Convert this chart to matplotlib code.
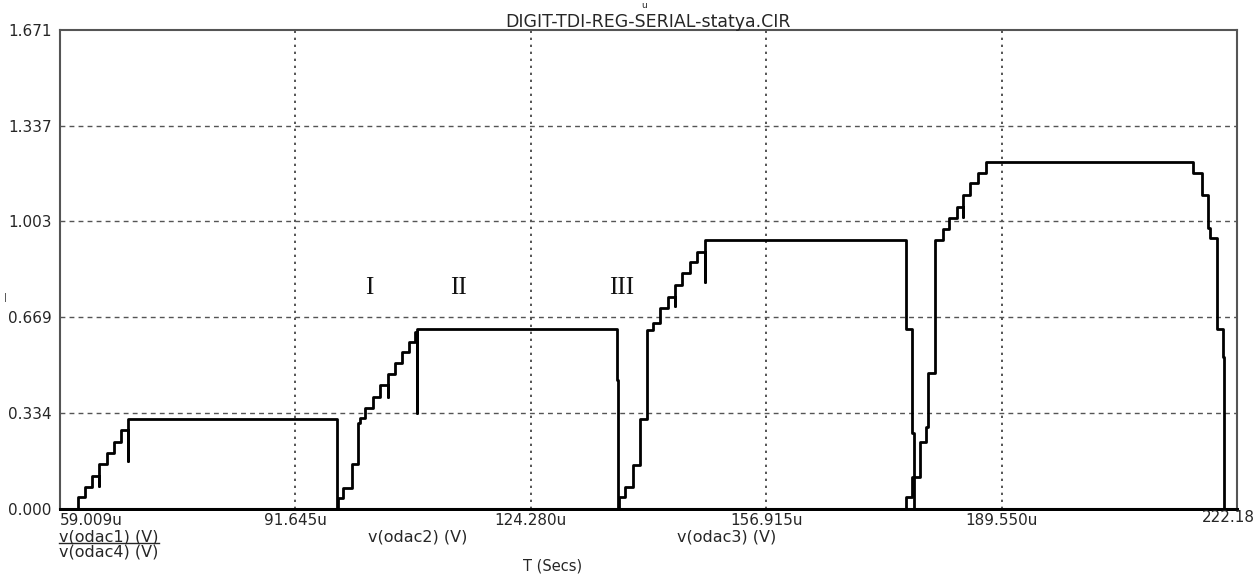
import matplotlib
matplotlib.use('Agg')
import matplotlib.pyplot as plt

W, H = 1256, 575

title = "DIGIT-TDI-REG-SERIAL-statya.CIR"
x_ticks = [59.009, 91.645, 124.280, 156.915, 189.550, 222.184]
x_tick_labels = ["59.009u", "91.645u", "124.280u", "156.915u", "189.550u", ""]
last_x_label = "222.18"
y_ticks = [0.000, 0.334, 0.669, 1.003, 1.337, 1.671]
y_tick_labels = ["0.000", "0.334", "0.669", "1.003", "1.337", "1.671"]

# v(odac1)
t1 = [59.009, 61.50, 62.48, 63.49, 64.46, 64.46, 65.48, 66.49, 67.47, 68.48, 68.48, 97.37, 222.184]
v1 = [0.0, 0.041, 0.076, 0.115, 0.080, 0.156, 0.196, 0.235, 0.276, 0.167, 0.314, 0.0, 0.0]
# v(odac2)
t2 = [59.009, 97.55, 98.24, 99.45, 100.37, 100.60, 101.29, 102.36, 103.37, 104.52, 104.52,
      105.45, 106.38, 107.44, 108.23, 108.45, 108.45, 136.23, 136.41, 222.184]
v2 = [0.0, 0.038, 0.073, 0.157, 0.300, 0.318, 0.352, 0.391, 0.433, 0.392, 0.471,
      0.509, 0.548, 0.583, 0.618, 0.335, 0.628, 0.450, 0.0, 0.0]
# v(odac3)
t3 = [59.009, 136.50, 137.34, 138.49, 139.42, 140.43, 141.26, 142.19, 143.34, 144.27, 144.27,
      145.20, 146.35, 147.28, 148.43, 148.43, 176.29, 177.08, 177.40, 222.184]
v3 = [0.0, 0.043, 0.078, 0.153, 0.313, 0.625, 0.649, 0.701, 0.741, 0.708, 0.782,
      0.822, 0.863, 0.898, 0.793, 0.939, 0.628, 0.265, 0.0, 0.0]
# v(odac4)
t4 = [59.009, 176.29, 177.08, 178.24, 179.07, 179.38, 180.31, 181.38, 182.29, 183.32, 184.24, 184.24,
      185.17, 186.32, 187.39, 216.12, 217.29, 218.20, 218.44, 219.40, 220.20, 220.38, 222.184]
v4 = [0.0, 0.043, 0.110, 0.235, 0.287, 0.473, 0.939, 0.977, 1.015, 1.055, 1.019, 1.096,
      1.137, 1.173, 1.212, 1.173, 1.096, 0.980, 0.946, 0.628, 0.531, 0.0, 0.0]

traces = [(t1, v1), (t2, v2), (t3, v3), (t4, v4)]
legend_labels = ["v(odac1) (V)", "v(odac2) (V)", "v(odac3) (V)", "v(odac4) (V)"]
region_labels = ["I", "II", "III"]
region_t = [101.85, 114.32, 136.92]
region_v = [0.771, 0.771, 0.771]

TXT = '#262626'

def fx(x):
    return x / W

def fy(y):
    return 1 - y / H

fig = plt.figure(figsize=(W / 100, H / 100), dpi=100)
ax = fig.add_axes([fx(60), fy(509), fx(1237) - fx(60), fy(30) - fy(509)])
ax.set_xlim(x_ticks[0], x_ticks[-1])
ax.set_ylim(y_ticks[0], y_ticks[-1])

for s in ax.spines.values():
    s.set_color('#555555')
    s.set_linewidth(1.5)

for yv in y_ticks[1:-1]:
    ax.axhline(yv, color='#555555', lw=1.0, dashes=(3.5, 3.0), zorder=1)
for xv in x_ticks[1:-1]:
    ax.axvline(xv, color='#555555', lw=1.4, dashes=(1.2, 2.4), zorder=1)

for t, v in traces:
    ax.plot(t, v, drawstyle='steps-post', color='black', lw=2.0, zorder=3, clip_on=False)

ax.set_xticks(x_ticks)
ax.set_xticklabels(x_tick_labels)
ax.set_yticks(y_ticks)
ax.set_yticklabels(y_tick_labels)
ax.tick_params(length=0, labelsize=11, colors=TXT)
ax.tick_params(axis='x', pad=3)
ax.tick_params(axis='y', pad=6)
ax.get_xticklabels()[0].set_ha('left')

for lab, tt, vv in zip(region_labels, region_t, region_v):
    ax.text(tt, vv, lab, ha='center', va='center', fontsize=18,
            family='Liberation Serif', color='#111111', zorder=4)

fig.text(fx(1255), fy(518), last_x_label, ha='right', va='center', fontsize=11, color=TXT)
fig.text(fx(648), fy(22), title, ha='center', va='center', fontsize=12.5, color=TXT)
fig.text(fx(644), fy(6), "u", ha='center', va='center', fontsize=6.5, color=TXT)
fig.text(fx(5), fy(297), "|", ha='center', va='center', fontsize=6, color=TXT)

tk = dict(fontsize=11.5, color=TXT, va='center')
t_odac1 = fig.text(fx(59), fy(537), legend_labels[0], ha='left', **tk)
fig.text(fx(59), fy(552), legend_labels[3], ha='left', **tk)
fig.text(fx(418), fy(537), legend_labels[1], ha='center', **tk)
fig.text(fx(727), fy(537), legend_labels[2], ha='center', **tk)
fig.text(fx(553), fy(566), "T (Secs)", ha='center', va='center', fontsize=10.5, color=TXT)

fig.canvas.draw()
bb = t_odac1.get_window_extent()
inv = fig.transFigure.inverted()
(x0, y0), (x1, y1) = inv.transform([(bb.x0, bb.y0), (bb.x1, bb.y0)])
fig.add_artist(plt.Line2D([x0, x1], [y0 + 0.003, y0 + 0.003], color=TXT, lw=1.0))

fig.savefig('out.png', dpi=100)
